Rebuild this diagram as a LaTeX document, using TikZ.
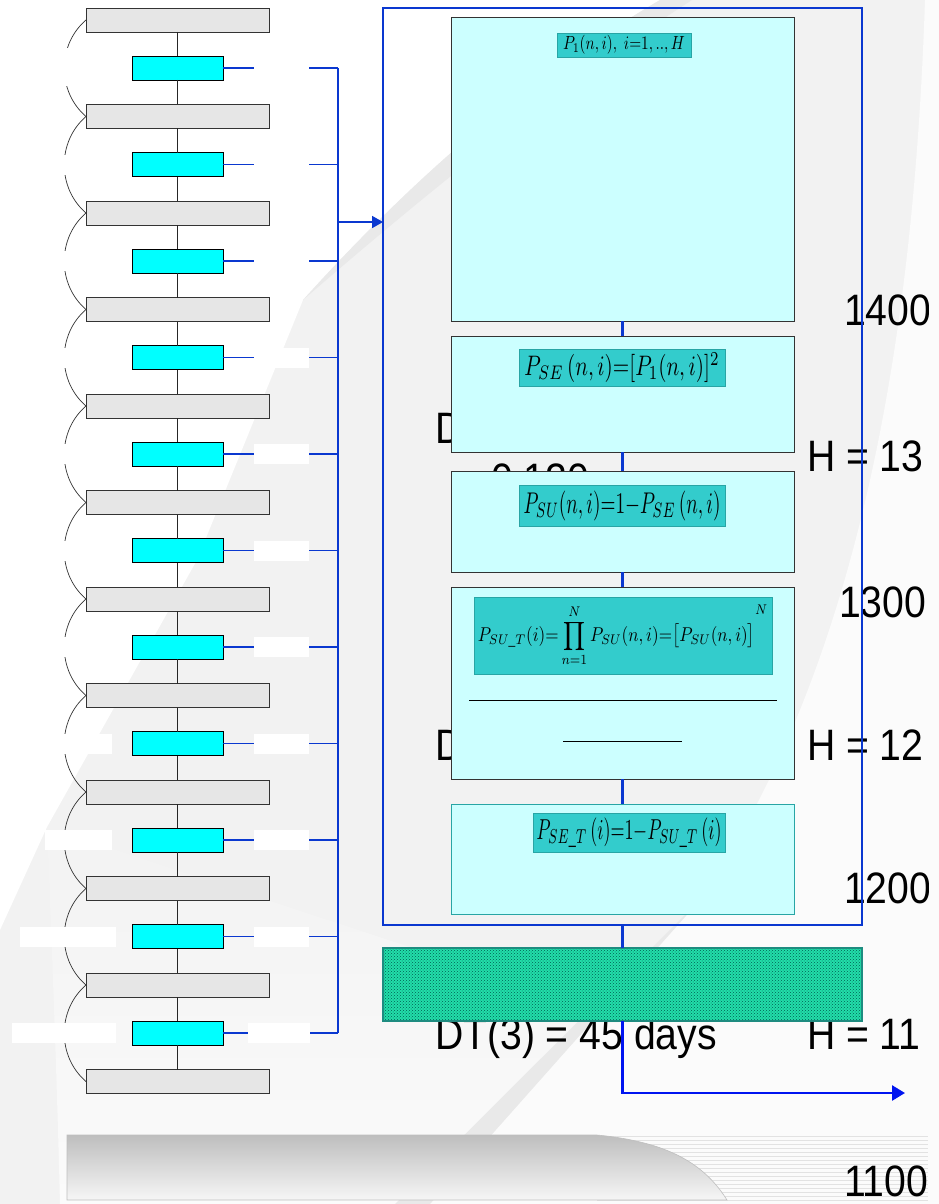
\documentclass[tikz,border=0pt]{standalone}
\usepackage{fontspec}
\setmainfont{Liberation Sans}
\usepackage{amsmath}
\usepackage{graphicx}
\usetikzlibrary{arrows.meta,patterns}
\definecolor{bline}{RGB}{10,56,208}
\definecolor{barrow}{RGB}{0,20,240}
\definecolor{boxfill}{RGB}{204,255,255}
\definecolor{lblfill}{RGB}{51,204,204}
\definecolor{lbldraw}{RGB}{40,165,165}
\definecolor{gfill}{RGB}{230,230,230}
\definecolor{cyanfill}{RGB}{0,255,255}
\definecolor{barfill}{RGB}{34,222,170}
\definecolor{bardot}{RGB}{0,95,82}
\definecolor{bardraw}{RGB}{30,140,128}
\definecolor{bggrey}{RGB}{242,242,242}
\definecolor{bgdark}{RGB}{233,233,233}
\definecolor{bglight}{RGB}{251,251,251}
\definecolor{stripec}{RGB}{226,226,226}
\tikzset{
 gbox/.style={draw=black!80, fill=gfill, line width=0.9pt, minimum width=183pt, minimum height=24pt, inner sep=0pt, outer sep=0pt},
 cbox/.style={draw=black, fill=cyanfill, line width=0.9pt, minimum width=91pt, minimum height=24pt, inner sep=0pt, outer sep=0pt},
 stem/.style={draw=black!85, line width=0.8pt},
 bracecurve/.style={draw=black!80, line width=0.7pt},
 bl/.style={draw=bline, line width=1.8pt},
 blc/.style={draw=bline, line width=2.6pt},
 bigbox/.style={draw=black!80, fill=boxfill, line width=0.9pt, minimum width=343pt, inner sep=0pt, outer sep=0pt},
 lbl/.style={draw=lbldraw, fill=lblfill, line width=0.9pt, inner sep=0pt, outer sep=0pt},
 hid/.style={font=\fontsize{44}{44}\selectfont, inner sep=0pt, outer sep=0pt, anchor=base west},
}
\newcommand{\hs}[1]{\scalebox{0.89}[1]{#1}}
\begin{document}
\begin{tikzpicture}[x=1pt,y=-1pt]
\useasboundingbox (0,0) rectangle (939,1204);
% background
\fill[bggrey] (0,0) rectangle (939,1204);
\shade[top color=bggrey, bottom color=bglight] (47,827) .. controls (52,950) and (57,1080) .. (60,1204) -- (430,1204) -- (600,1010) -- cycle;
\fill[white] (0,0) -- (660,0) .. controls (540,70) and (420,170) .. (303,300) -- (197,560) -- (47,827) -- (0,930) -- cycle;
\fill[bgdark] (660,0) .. controls (540,70) and (420,170) .. (303,300) .. controls (430,190) and (560,85) .. (692,0) -- cycle;
\fill[bglight] (925,0) .. controls (915,300) and (870,650) .. (700,900) -- (430,1204) -- (939,1204) -- (939,0) -- cycle;
\fill[bgdark] (700,900) -- (430,1204) -- (395,1204) -- cycle;
% bottom bar
\foreach \s in {0,...,16} \draw[stripec, line width=0.7pt] (597,{1136+4*\s}) -- (928,{1136+4*\s});
\shade[top color={rgb,255:red,190;green,190;blue,190}, bottom color={rgb,255:red,246;green,246;blue,246}] (67,1135) -- (597,1135) .. controls (670,1142) and (705,1165) .. (727,1200) -- (67,1200) -- cycle;
\draw[black!25, line width=0.6pt] (67,1200) -- (67,1135) -- (597,1135) .. controls (670,1142) and (705,1165) .. (727,1200) -- cycle;
% hidden texts
\begin{scope}
\clip (0,0) rectangle (928,1204);
\node[hid] (t1400) at (844,325) {\hs{1400}};
\node[hid] (th13) at (807,471) {\hs{H = 13}};
\node[hid] (t1300) at (839,617) {\hs{1300}};
\node[hid] (th12) at (807,760) {\hs{H = 12}};
\node[hid] (t1200) at (844,903) {\hs{1200}};
\node[hid] (th11) at (807,1049) {\hs{H = 11}};
\node[hid] (t1100) at (844,1196) {\hs{1100}};
\node[hid] (tdt1) at (435,443) {\hs{DT(1) = 45 days}};
\node[hid] (tdt2) at (435,760) {\hs{DT(2) = 45 days}};
\node[hid] (tdt3) at (435,1049) {\hs{DT(3) = 45 days}};
\end{scope}
\begin{scope}
\clip (470,452) rectangle (620,471);
\node[hid] (tval) at (491,494) {\hs{0.120}};
\end{scope}
% left column
\foreach \k in {0,...,11} \node[gbox] (g\k) at (177.5,{20+96.5*\k}) {};
\foreach \k in {0,...,10} \node[cbox] (c\k) at (177.5,{68+96.5*\k}) {};
\foreach \k [count=\n from 1] in {0,...,10} {
  \draw[stem] (g\k.south) -- (c\k.north);
  \draw[stem] (c\k.south) -- (g\n.north);
  \draw[bracecurve] (g\k.west) .. controls +(-29,25) and +(-29,-25) .. (g\n.west);
}
% masks on left
\fill[white] (40,48) rectangle (116,86);
\foreach \yy in {164.5,261,357.5,454,550.5,647} \fill[white] (40,\yy-10) rectangle (116,\yy+10);
\fill[white] (40,733.5) rectangle (112,753.5);
\fill[white] (45,830) rectangle (112,850);
\fill[white] (20,926.5) rectangle (116,946.5);
\fill[white] (12,1023) rectangle (116,1043);
% blue lines to bus
\foreach \k in {0,...,10} {
  \coordinate (b\k) at (338,{68+96.5*\k});
  \draw[bl] (c\k.east) -- (b\k);
}
\draw[bl] (b0) -- (b10);
\foreach \yy in {68,164.5,261,357.5,454,550.5,647,743.5,840,936.5} \fill[white] (254,\yy-10) rectangle (309,\yy+10);
\fill[white] (248,1023) rectangle (310,1043);
% frame
\node[draw=bline, line width=1.5pt, minimum width=479pt, minimum height=917pt, inner sep=0pt, outer sep=0pt] (frame) at (622.5,466.5) {};
\coordinate (bm) at (338,222);
\draw[bl, -{Triangle[length=11pt,width=12pt]}] (bm) -- (frame.west |- bm);
% right boxes
\node[bigbox, minimum height=304pt] (A) at (622.5,169) {};
\node[bigbox, minimum height=116pt] (B) at (622.5,394) {};
\node[bigbox, minimum height=101pt] (C) at (622.5,521.5) {};
\node[bigbox, minimum height=192pt] (D) at (622.5,683) {};
\node[bigbox, draw=lbldraw, minimum height=110pt] (E) at (622.5,859) {};
\draw[black, line width=1pt] (469,700) -- (777,700);
\draw[black, line width=1pt] (563,741) -- (682,741);
\draw[blc] (A.south) -- (B.north);
\draw[blc] (B.south) -- (C.north);
\draw[blc] (C.south) -- (D.north);
\draw[blc] (D.south) -- (E.north);
% labels
\node[lbl, minimum width=134pt, minimum height=24pt] (la) at (624,45) {\resizebox*{122pt}{19pt}{$P_1(n,i),\ i{=}1,..,H$}};
\node[lbl, minimum width=206pt, minimum height=37pt] (lb) at (622,367.5) {\resizebox*{195pt}{30pt}{$P_{SE}\,(n,i){=}[P_1(n,i)]^2$}};
\node[lbl, minimum width=206pt, minimum height=41pt] (lc) at (622,505.5) {\resizebox*{197pt}{30pt}{$P_{SU}(n,i){=}1{-}P_{SE}\,(n,i)$}};
\node[lbl, minimum width=298pt, minimum height=77pt] (ld) at (623,635.5) {\resizebox*{290pt}{62pt}{$\displaystyle P_{SU\_T}(i){=}\prod_{n=1}^{N}P_{SU}(n,i){=}\bigl[P_{SU}(n,i)\bigr]^{\raisebox{1.4ex}{$\scriptstyle N$}}$}};
\node[lbl, minimum width=192pt, minimum height=39pt] (le) at (629,832.5) {\resizebox*{185pt}{30pt}{$P_{SE\_T}\,(i){=}1{-}P_{SU\_T}\,(i)$}};
% green bar
\node[fill=barfill, minimum width=479pt, minimum height=73pt, inner sep=0pt, outer sep=0pt] (bar) at (622.5,984.5) {};
\fill[pattern=crosshatch dots, pattern color=bardot] (bar.south west) rectangle (bar.north east);
\draw[bardraw, line width=2pt] (bar.south west) rectangle (bar.north east);
\draw[blc] (frame.south) -- (bar.north);
\coordinate (aend) at (905,1093);
\draw[draw=barrow, line width=2.6pt, -{Triangle[length=13pt,width=15pt]}] (bar.south) |- (aend);
\end{tikzpicture}
\end{document}
